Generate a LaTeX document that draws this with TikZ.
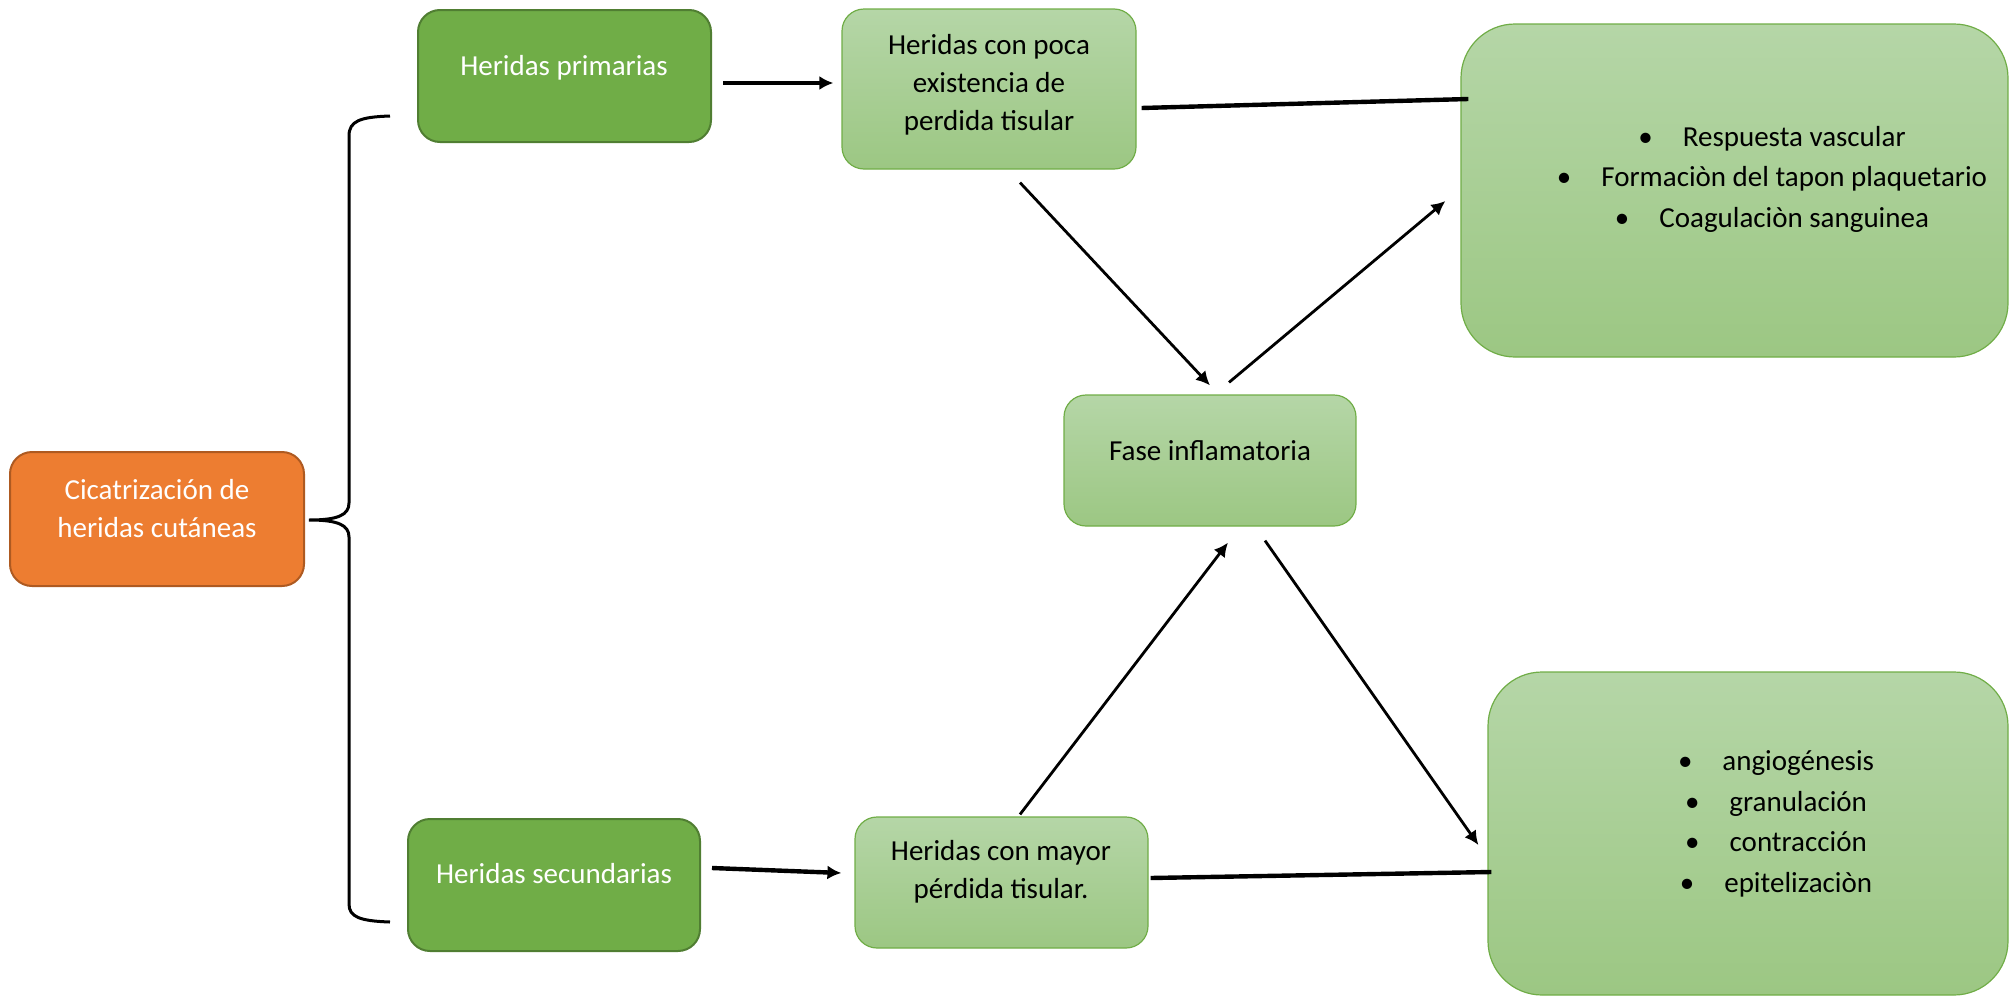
\documentclass[tikz,border=0pt]{standalone}
\usepackage{fontspec}
\setmainfont{Carlito}
\usepackage{tikz}
\usetikzlibrary{arrows.meta,calc}
\definecolor{naranja}{HTML}{ED7D31}
\definecolor{naranjaborde}{HTML}{AE5A21}
\definecolor{verde}{HTML}{70AD47}
\definecolor{verdeborde}{HTML}{507E32}
\definecolor{verdeclaro}{HTML}{B5D6A7}
\definecolor{verdemedio}{HTML}{9CC783}

\begin{document}
\begin{tikzpicture}[x=0.5pt,y=-0.5pt,
	caja/.style={rectangle, rounded corners=11pt, inner sep=0pt},
	cajanaranja/.style={caja, fill=naranja, draw=naranjaborde, line width=1pt},
	cajaverde/.style={caja, fill=verde, draw=verdeborde, line width=1pt},
	cajaclara/.style={caja, top color=verdeclaro, bottom color=verdemedio, draw=verde, line width=0.6pt},
	texto/.style={font=\fontsize{14.5}{19}\selectfont, align=center, inner sep=0pt},
	lista/.style={font=\fontsize{14.5}{20.25}\selectfont, align=center, inner sep=0pt},
	flecha/.style={line width=1.4pt, -{Latex[length=7pt,width=7pt]}},
	flechagruesa/.style={line width=2.2pt, -{Latex[length=7pt,width=7pt]}},
	linea/.style={line width=2.2pt}]
	
	\useasboundingbox (0,0) rectangle (2010,996);
	
	% cajas
	\node[cajanaranja, minimum width=147pt, minimum height=67pt] (cicatrizacion) at (157,519) {};
	\node[cajaverde, minimum width=146.5pt, minimum height=66pt] (primarias) at (564.5,76) {};
	\node[cajaverde, minimum width=146pt, minimum height=66pt] (secundarias) at (554,885) {};
	\node[cajaclara, minimum width=147pt, minimum height=80pt] (poca) at (989,89) {};
	\node[cajaclara, minimum width=146.5pt, minimum height=65.5pt] (mayor) at (1001.5,882.5) {};
	\node[cajaclara, minimum width=146pt, minimum height=65.5pt] (fase) at (1210,460.5) {};
	\node[cajaclara, rounded corners=27pt, minimum width=273.5pt, minimum height=166.5pt] (vascular) at (1734.5,190.5) {};
	\node[cajaclara, rounded corners=27pt, minimum width=260pt, minimum height=161.5pt] (reparacion) at (1748,833.5) {};
	
	% textos
	\node[texto, text=white] (cicatrizaciont) at (157,509) {Cicatrización de\\heridas cutáneas};
	\node[texto, text=white] (primariast) at (564,68) {Heridas primarias};
	\node[texto, text=white] (secundariast) at (554,874) {Heridas secundarias};
	\node[texto] (pocat) at (989,85) {Heridas con poca\\existencia de\\perdida tisular};
	\node[texto] (mayort) at (1001,872) {Heridas con mayor\\pérdida tisular.};
	\node[texto] (faset) at (1210,451) {Fase inflamatoria};
	\node[lista] (vasculart) at (1772,179) {\textbullet\hspace{15pt}Respuesta vascular\\
		\textbullet\hspace{15pt}Formaciòn del tapon plaquetario\\
		\textbullet\hspace{15pt}Coagulaciòn sanguinea};
	\node[lista] (reparaciont) at (1776,824) {\textbullet\hspace{15pt}angiogénesis\\
		\textbullet\hspace{15pt}granulación\\
		\textbullet\hspace{15pt}contracción\\
		\textbullet\hspace{15pt}epitelizaciòn};
	
	% llave
	\draw[line width=1.5pt] (390,116) .. controls (360,117) and (349,121) .. (349,136) -- (349,503)
		.. controls (349,515) and (338,520) .. (309,520) .. controls (338,520) and (349,525) .. (349,537)
		-- (349,904) .. controls (349,917) and (360,921) .. (390,922);
	
	% flechas
	\draw[flechagruesa] ([shift={(11,7)}]primarias.east) -- ([shift={(-8,-6)}]poca.west);
	\draw[linea] ([shift={(5,19)}]poca.east) -- ([shift={(8,-91.5)}]vascular.west);
	\draw[flecha] ([shift={(31,13)}]poca.south) -- ([shift={(0,-9)}]fase.north);
	\draw[flecha] ([shift={(19,-12)}]fase.north) -- ([shift={(-15,10.5)}]vascular.west);
	\draw[flecha] ([shift={(18.5,-2)}]mayor.north) -- ([shift={(18,16)}]fase.south);
	\draw[flecha] ([shift={(55,14)}]fase.south) -- ([shift={(-9,11.5)}]reparacion.west);
	\draw[flechagruesa] ([shift={(11,-17)}]secundarias.east) -- ([shift={(-13,-9.5)}]mayor.west);
	\draw[linea] ([shift={(2,-4.5)}]mayor.east) -- ([shift={(4,38.5)}]reparacion.west);
	
\end{tikzpicture}
\end{document}
